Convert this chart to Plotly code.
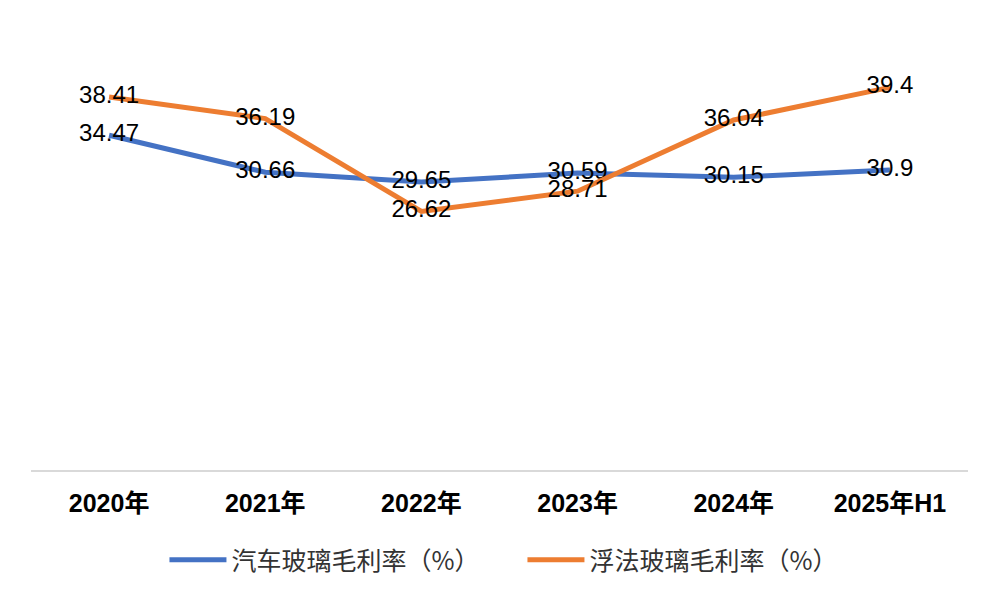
import plotly.graph_objects as go

categories = ["2020年", "2021年", "2022年", "2023年", "2024年", "2025年H1"]
auto_glass = [34.47, 30.66, 29.65, 30.59, 30.15, 30.9]
float_glass = [38.41, 36.19, 26.62, 28.71, 36.04, 39.4]
auto_labels = ["34.47", "30.66", "29.65", "30.59", "30.15", "30.9"]
float_labels = ["38.41", "36.19", "26.62", "28.71", "36.04", "39.4"]

FONT = "Liberation Sans, Arial, Noto Sans CJK SC, sans-serif"

fig = go.Figure()
fig.add_trace(go.Scatter(
    x=categories, y=auto_glass, mode="lines+text", name="汽车玻璃毛利率（%）",
    line=dict(color="#4472C4", width=5),
    text=auto_labels, textposition="middle center",
    textfont=dict(family=FONT, size=24, color="#000000"),
))
fig.add_trace(go.Scatter(
    x=categories, y=float_glass, mode="lines+text", name="浮法玻璃毛利率（%）",
    line=dict(color="#ED7D31", width=5),
    text=float_labels, textposition="middle center",
    textfont=dict(family=FONT, size=24, color="#000000"),
))

fig.update_layout(
    width=1001, height=600,
    margin=dict(l=23, r=41, t=25, b=138),
    paper_bgcolor="white", plot_bgcolor="white",
    font=dict(family=FONT, color="#000000"),
    showlegend=True,
    legend=dict(
        orientation="h", x=0.5245, xanchor="center", y=-0.206, yanchor="middle",
        font=dict(family="Noto Sans CJK SC, Liberation Sans, sans-serif", size=25, color="#333333"),
        itemwidth=57, entrywidth=286, bgcolor="rgba(0,0,0,0)",
    ),
)
fig.update_xaxes(
    type="category", range=[-0.5, 5.5], showgrid=False, zeroline=False,
    showline=True, linecolor="#d9d9d9", linewidth=2,
    ticks="", ticklabelstandoff=10,
    tickfont=dict(family=FONT, size=25, color="#000000", weight="bold"),
)
fig.update_yaxes(
    range=[0, 45], showgrid=False, zeroline=False, showline=False,
    showticklabels=False, ticks="",
)

fig.write_html("out.html")
